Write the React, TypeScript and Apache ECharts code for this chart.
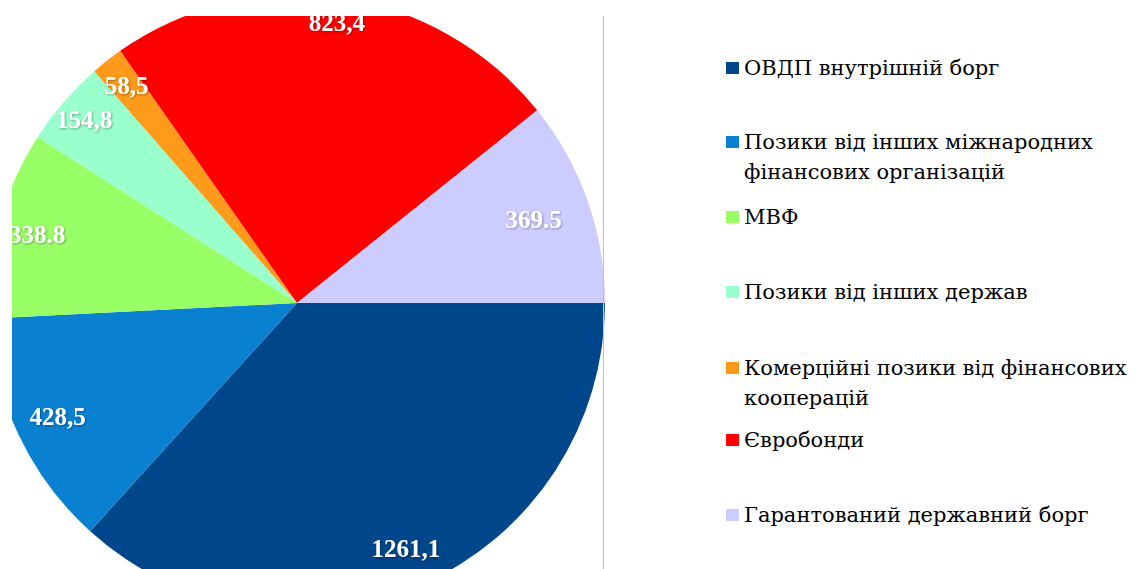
import React, { useEffect, useRef } from "react";
import * as echarts from "echarts";

const categories = [
  "ОВДП внутрішній борг",
  "Позики від інших міжнародних\nфінансових організацій",
  "МВФ",
  "Позики від інших держав",
  "Комерційні позики від фінансових\nкооперацій",
  "Єврoбонди".replace("o", "о"),
  "Гарантований державний борг",
];
const values = [1261.1, 428.5, 338.8, 154.8, 58.5, 823.4, 369.5];
const decimalSeparators = [",", ",", ".", ",", ",", ",", "."];
const colors = ["#00468b", "#0a80d0", "#99ff66", "#99ffcc", "#ff9a1a", "#ff0000", "#ccccff"];

// layout tweaks
const legendFirstLineY = [68, 142, 217, 292, 368, 440, 515];
const labelRadius = [266, 262, 266, 278, 273, 280, 248];

export default function App() {
  const ref = useRef<HTMLDivElement>(null);
  useEffect(() => {
    if (!ref.current) return;
    const chart = echarts.init(ref.current, undefined, { renderer: "svg" });
    const font = "Liberation Serif";
    const legendFont = "DejaVu Serif";
    const lineH = 30;
    const cx = 297;
    const cy = 303;
    const baseLabelR = 275;
    const data = categories.map((name, i) => ({
      name,
      value: values[i],
      itemStyle: { color: colors[i] },
    }));
    const legends = categories.map((name, i) => {
      const twoLine = name.includes("\n");
      const style = {
        fontFamily: legendFont,
        fontSize: 21,
        color: "#000",
        lineHeight: lineH,
      };
      return {
        orient: "vertical",
        left: 726,
        top: legendFirstLineY[i] - (twoLine ? lineH * 1.5 : lineH / 2),
        padding: 0,
        itemWidth: 13,
        itemHeight: 12,
        icon: "rect",
        selectedMode: false,
        data: [name],
        formatter: (n: string) =>
          n
            .split("\n")
            .map((s) => `{t|${s}}`)
            .join("\n"),
        textStyle: {
          ...style,
          padding: twoLine ? [lineH, 0, 0, 0] : 0,
          rich: { t: { ...style } },
        },
      };
    });
    chart.setOption({
      animation: false,
      backgroundColor: "#ffffff",
      legend: legends,
      series: [
        {
          type: "pie",
          center: [cx, cy],
          radius: [0, 308],
          startAngle: 0,
          clockwise: true,
          avoidLabelOverlap: false,
          label: { show: false },
          labelLine: { show: false },
          itemStyle: { borderWidth: 0 },
          emphasis: { disabled: true },
          data,
        },
        {
          type: "pie",
          center: [cx, cy],
          radius: [baseLabelR - 30, baseLabelR + 30],
          startAngle: 0,
          clockwise: true,
          silent: true,
          legendHoverLink: false,
          avoidLabelOverlap: false,
          itemStyle: { color: "transparent", borderWidth: 0 },
          labelLine: { show: false },
          emphasis: { disabled: true },
          labelLayout: (p: any) => {
            const r = p.labelRect;
            const lx = r.x + r.width / 2;
            const ly = r.y + r.height / 2;
            const k = labelRadius[p.dataIndex] / baseLabelR;
            return { dx: (lx - cx) * (k - 1), dy: (ly - cy) * (k - 1) };
          },
          label: {
            show: true,
            position: "inside",
            fontFamily: font,
            fontWeight: "bold",
            fontSize: 25,
            color: "#ffffff",
            textShadowColor: "rgba(0,0,0,0.35)",
            textShadowBlur: 2,
            textShadowOffsetX: 1,
            textShadowOffsetY: 1,
            formatter: (p: any) =>
              values[p.dataIndex].toFixed(1).replace(".", decimalSeparators[p.dataIndex]),
          },
          data: categories.map((name, i) => ({ name, value: values[i] })),
        },
      ],
      graphic: [
        { type: "rect", z: 100, shape: { x: 0, y: 0, width: 640, height: 16 }, style: { fill: "#ffffff" } },
        { type: "rect", z: 100, shape: { x: 0, y: 0, width: 12, height: 569 }, style: { fill: "#ffffff" } },
        {
          type: "line",
          z: 101,
          shape: { x1: 603.5, y1: 16, x2: 603.5, y2: 569 },
          style: { stroke: "#c0c0c0", lineWidth: 1 },
        },
      ],
    });
    return () => chart.dispose();
  }, []);
  return (
    <div
      ref={ref}
      style={{ position: "absolute", left: 0, top: 0, width: 1141, height: 569 }}
    />
  );
}
